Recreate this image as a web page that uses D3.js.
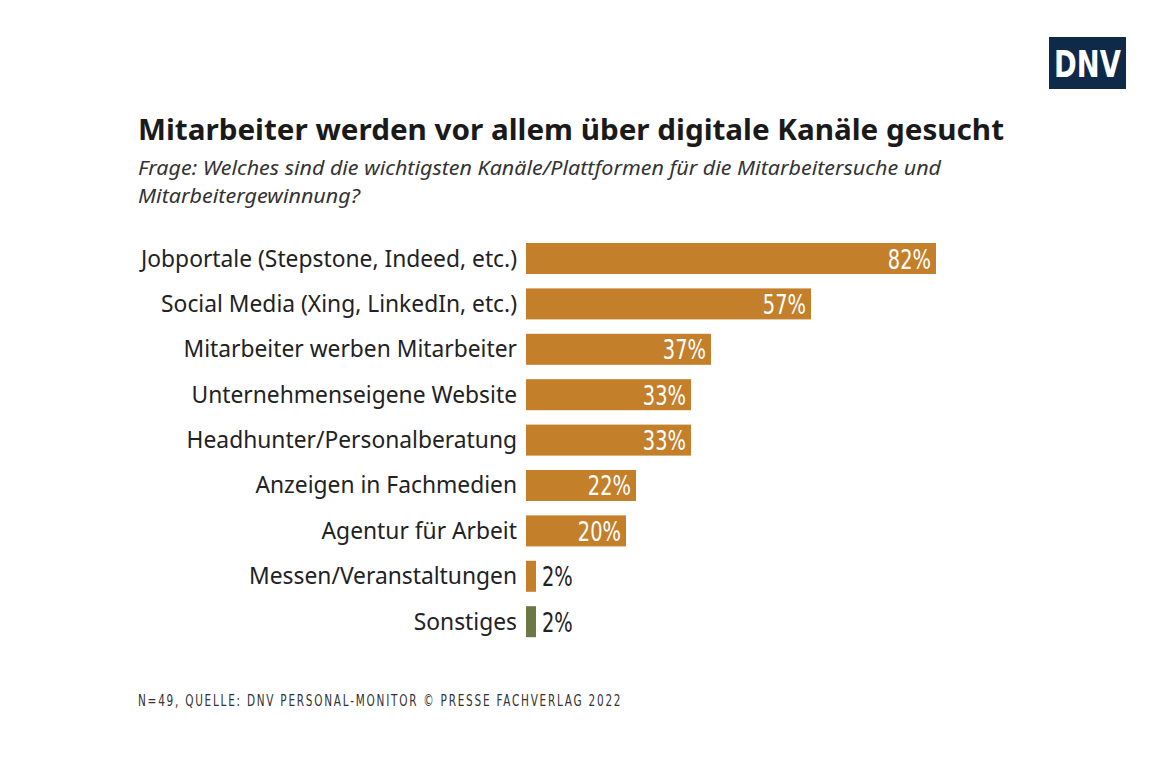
<!DOCTYPE html>
<html><head><meta charset="utf-8">
<script src="https://cdn.jsdelivr.net/npm/d3@7"></script>
<style>body{margin:0;background:#fff}</style></head>
<body><svg id="c" width="1171" height="768"></svg>
<script>
const categories=["Jobportale (Stepstone, Indeed, etc.)","Social Media (Xing, LinkedIn, etc.)","Mitarbeiter werben Mitarbeiter","Unternehmenseigene Website","Headhunter/Personalberatung","Anzeigen in Fachmedien","Agentur für Arbeit","Messen/Veranstaltungen","Sonstiges"];
const values=[82,57,37,33,33,22,20,2,2];
const colors=["#c47f2b","#c47f2b","#c47f2b","#c47f2b","#c47f2b","#c47f2b","#c47f2b","#c47f2b","#6b7843"];
const svg=d3.select("#c");
const sans="'Noto Sans',sans-serif";
function cond(x,y,size,sx,anchor,fill,txt,weight){
  const t=svg.append("text").attr("transform",`translate(${x},${y}) scale(${sx},1)`).attr("text-anchor",anchor).attr("font-family","'DejaVu Sans',sans-serif").attr("font-size",size).attr("fill",fill).attr("font-weight",weight||"normal").text(txt);
  return t;
}
svg.append("rect").attr("x",1049).attr("y",37).attr("width",77).attr("height",52).attr("fill","#0f2948");
cond(1087.5,77,38,0.72,"middle","#fff","DNV","bold");
svg.append("text").attr("x",138).attr("y",140).attr("font-family",sans).attr("font-weight","bold").attr("font-size",28).attr("textLength",866).attr("lengthAdjust","spacingAndGlyphs").attr("fill","#1a1a1a").text("Mitarbeiter werden vor allem über digitale Kanäle gesucht");
svg.append("text").attr("x",138).attr("y",175).attr("font-family",sans).attr("font-style","italic").attr("font-size",19).attr("textLength",803).attr("lengthAdjust","spacingAndGlyphs").attr("fill","#333").text("Frage: Welches sind die wichtigsten Kanäle/Plattformen für die Mitarbeitersuche und");
svg.append("text").attr("x",138).attr("y",203).attr("font-family",sans).attr("font-style","italic").attr("font-size",19).attr("textLength",222).attr("lengthAdjust","spacingAndGlyphs").attr("fill","#333").text("Mitarbeitergewinnung?");
const x=d3.scaleLinear().domain([0,100]).range([526,1026]);
const y=d3.scaleBand().domain(categories).range([243,243+45.4*8+31]).paddingInner(0.317).paddingOuter(0);
categories.forEach((c,i)=>{
 const v=values[i];
 svg.append("rect").attr("x",x(0)).attr("y",y(c)).attr("width",x(v)-x(0)).attr("height",y.bandwidth()).attr("fill",colors[i]);
 svg.append("text").attr("x",517).attr("y",y(c)+y.bandwidth()/2+8).attr("text-anchor","end").attr("font-family",sans).attr("font-size",22.8).attr("fill","#222").text(c);
 const inside=v>10;
 cond(inside?x(v)-5:x(v)+6,y(c)+y.bandwidth()/2+10,27,0.72,inside?"end":"start",inside?"#fff":"#222",v+"%");
});
cond(138,706,15,0.7,"start","#333","N=49, QUELLE: DNV PERSONAL-MONITOR  © PRESSE FACHVERLAG 2022").attr("letter-spacing",2.5);
</script></body></html>
